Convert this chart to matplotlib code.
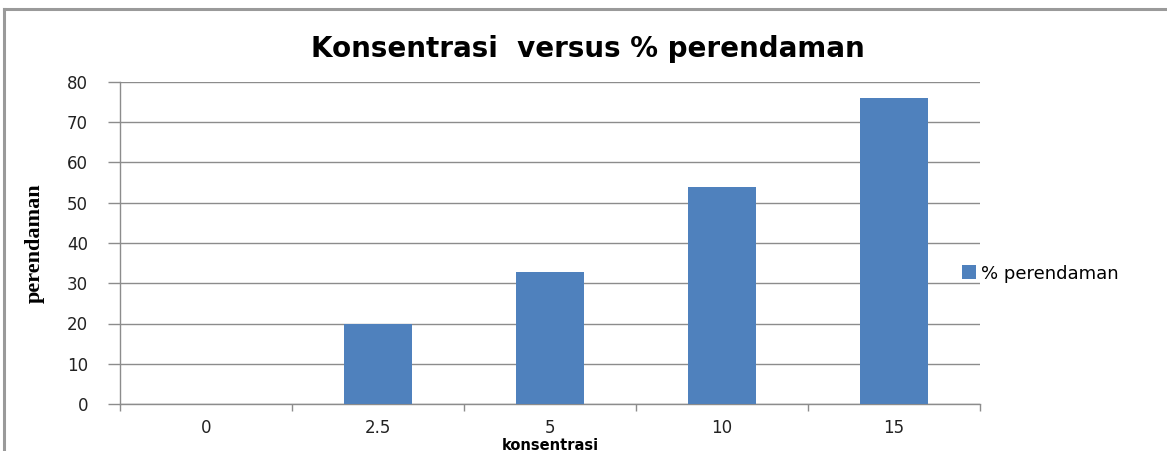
import numpy as np
import matplotlib
matplotlib.use("Agg")
import matplotlib.pyplot as plt
from matplotlib.lines import Line2D

# konsentrasi categories and % perendaman values
konsentrasi = ["0", "2.5", "5", "10", "15"]
perendaman = [0, 20, 32.7, 53.8, 76.1]
yticks = [0, 10, 20, 30, 40, 50, 60, 70, 80]

BAR = "#4F81BD"
GRID = "#8C8C8C"

fig = plt.figure(figsize=(11.67, 4.51), dpi=100)
fig.patch.set_facecolor("white")

# frame around the chart (only top and left edges fall inside the image)
fig.add_artist(Line2D([4 / 1167, 4 / 1167], [0, 1 - 9 / 451],
                      transform=fig.transFigure, color="#9A9A9A", lw=2.2))
fig.add_artist(Line2D([4 / 1167, 1.0], [1 - 9 / 451, 1 - 9 / 451],
                      transform=fig.transFigure, color="#9A9A9A", lw=2.2))

ax = fig.add_axes([120 / 1167, 1 - 404 / 451, 860 / 1167, 322 / 451])
x = np.arange(len(konsentrasi))
ax.bar(x, perendaman, width=0.4, color=BAR, label="% perendaman", zorder=3)

ax.set_xlim(-0.5, len(konsentrasi) - 0.5)
ax.set_ylim(0, 80)
ax.set_yticks(yticks)
ax.set_yticklabels([str(v) for v in yticks], fontsize=12, color="#222222")
ax.yaxis.grid(True, color=GRID, lw=1.0, zorder=0)
ax.tick_params(axis="y", length=9, color=GRID, width=1, pad=14)

# category boundary ticks, labels centred between them
ax.set_xticks(np.arange(-0.5, len(konsentrasi), 1.0))
ax.set_xticklabels([])
ax.set_xticks(x, minor=True)
ax.set_xticklabels(konsentrasi, minor=True, fontsize=12, color="#222222")
ax.tick_params(axis="x", which="minor", length=0, pad=11)
ax.tick_params(axis="x", which="major", length=5, color=GRID, width=1)

for s in ["top", "right"]:
    ax.spines[s].set_visible(False)
for s in ["left", "bottom"]:
    ax.spines[s].set_color(GRID)
    ax.spines[s].set_linewidth(1.0)

ax.set_title("Konsentrasi  versus % perendaman", fontsize=20, fontweight="bold",
             pad=18, x=0.544)
ax.set_xlabel("konsentrasi", fontsize=10.5, fontweight="bold", va="top")
ax.xaxis.set_label_coords(0.5, -34 / 322)
ax.set_ylabel("perendaman", fontsize=16, fontweight="bold",
              family="Liberation Serif", labelpad=16)

ax.legend(loc="center left", bbox_to_anchor=(0.96, 0.405), frameon=False,
          fontsize=13, handlelength=0.8, handleheight=0.8, handletextpad=0.25)

fig.savefig("out.png", dpi=100, facecolor="white")
